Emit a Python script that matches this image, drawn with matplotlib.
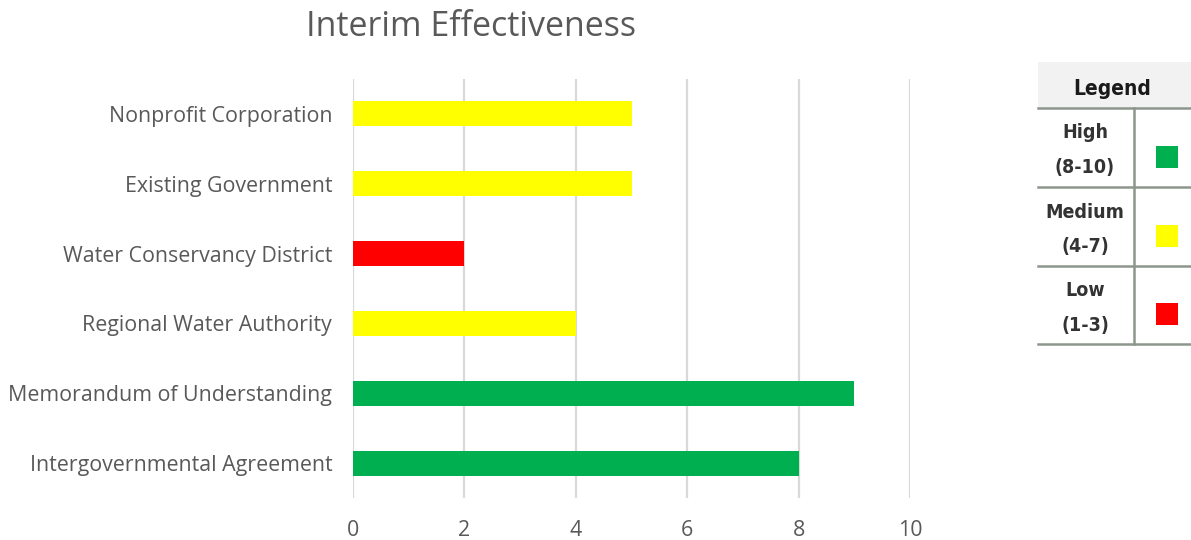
import matplotlib.pyplot as plt
from matplotlib.patches import Rectangle

categories = ["Intergovernmental Agreement", "Memorandum of Understanding",
              "Regional Water Authority", "Water Conservancy District",
              "Existing Government", "Nonprofit Corporation"]
scores = [8, 9, 4, 2, 5, 5]
x_ticks = [0, 2, 4, 6, 8, 10]

legend_labels = [("High", "(8-10)"), ("Medium", "(4-7)"), ("Low", "(1-3)")]
legend_colors = ["#00b050", "#ffff00", "#ff0000"]


def score_color(v):
    if v >= 8:
        return legend_colors[0]
    if v >= 4:
        return legend_colors[1]
    return legend_colors[2]


W, H = 1191, 540
fig = plt.figure(figsize=(W / 100, H / 100), dpi=100)
ax = fig.add_axes([353 / W, 1 - 498 / H, 557 / W, 419 / H])

ax.barh(range(len(categories)), scores, height=0.36,
        color=[score_color(v) for v in scores], zorder=3)
ax.set_xlim(0, 10)
ax.set_ylim(-0.5, len(categories) - 0.5)
ax.set_xticks(x_ticks)
ax.set_yticks(range(len(categories)))
ax.set_yticklabels(categories)
ax.grid(axis="x", color="#d9d9d9", linewidth=1.6, zorder=0)
for s in ax.spines.values():
    s.set_visible(False)
ax.tick_params(axis="both", length=0, colors="#595959", labelsize=15.4)
ax.tick_params(axis="y", pad=15)
ax.tick_params(axis="x", pad=16)
for lbl in ax.get_xticklabels() + ax.get_yticklabels():
    lbl.set_family("Open Sans")

fig.text(471 / W, 1 - 27 / H, "Interim Effectiveness", ha="center", va="center",
         fontsize=24.5, color="#595959", family="Open Sans")

# legend table, drawn in pixel space
lg = fig.add_axes([0, 0, 1, 1])
lg.set_xlim(0, W)
lg.set_ylim(H, 0)
lg.axis("off")
line_col = "#8c968c"
leg_font = dict(family="DejaVu Sans", fontstretch="condensed", fontweight="semibold")
lg.add_patch(Rectangle((1038, 62), W - 1038, 46, color="#f2f2f2", lw=0))
lg.text(1112, 89, "Legend", ha="center", va="center", fontsize=15,
        color="#1a1a1a", **leg_font)
rows = [108, 187, 266, 344]
for y in rows:
    lg.plot([1038, W], [y, y], color=line_col, lw=1.8)
lg.plot([1134, 1134], [rows[0], rows[-1]], color=line_col, lw=1.8)
for i, ((a, b), c) in enumerate(zip(legend_labels, legend_colors)):
    y0, y1 = rows[i], rows[i + 1]
    mid = (y0 + y1) / 2
    lg.text(1085, mid - 14.5, a, ha="center", va="center", fontsize=14,
            color="#333333", **leg_font)
    lg.text(1085, mid + 20, b, ha="center", va="center", fontsize=14,
            color="#333333", **leg_font)
    lg.add_patch(Rectangle((1156, mid + 9 - 11), 22, 22, color=c, lw=0))

fig.savefig("out.png", dpi=100)
